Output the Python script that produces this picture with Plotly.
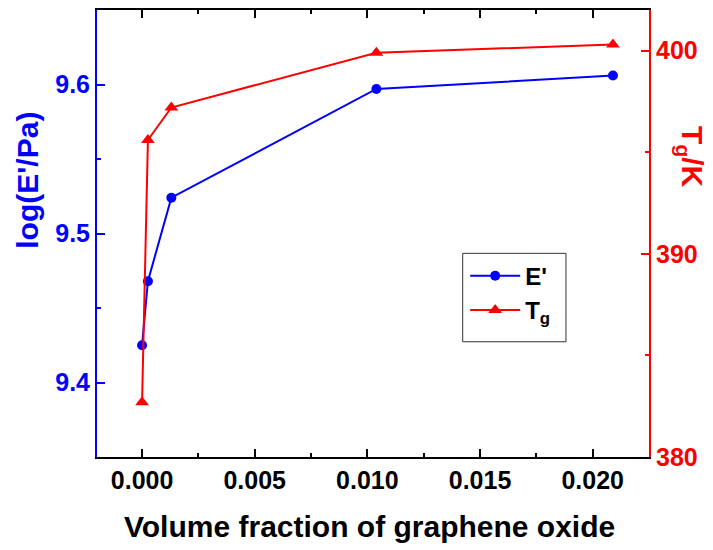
import plotly.graph_objects as go

# data
volume_fraction = [0.0, 0.00026, 0.0013, 0.0104, 0.0209]
log_E = [9.425, 9.468, 9.524, 9.597, 9.606]
Tg = [382.7, 395.6, 397.2, 399.9, 400.3]
x_ticks = [0.0, 0.005, 0.010, 0.015, 0.020]
yl_ticks = [9.4, 9.5, 9.6]
yr_ticks = [380, 390, 400]

FONT = "Liberation Sans, Arial, sans-serif"
BLUE = "#0000ff"
RED = "#ff0000"

fig = go.Figure()
fig.add_trace(go.Scatter(
    x=volume_fraction, y=log_E, name="E'", mode="lines+markers",
    line=dict(color=BLUE, width=2), marker=dict(symbol="circle", size=10, color=BLUE),
    yaxis="y"))
fig.add_trace(go.Scatter(
    x=volume_fraction, y=Tg, name="T<sub>g</sub>", mode="lines+markers",
    line=dict(color=RED, width=2), marker=dict(symbol="triangle-up", size=12, color=RED),
    yaxis="y2"))

tickfont = dict(family=FONT, size=25, weight="bold")

# the page body adds an 8px margin, so the figure is 8px smaller than the window
fig.update_layout(
    width=705, height=542,
    margin=dict(l=89, r=64, t=0, b=93),
    paper_bgcolor="white", plot_bgcolor="white",
    showlegend=True,
    legend=dict(x=0.667, y=0.455, xanchor="left", yanchor="top",
                font=dict(family=FONT, size=24, color="black", weight="bold"),
                bgcolor="rgba(0,0,0,0)", borderwidth=0, itemwidth=50,
                tracegroupgap=0),
    xaxis=dict(range=[-0.002, 0.0225], tickvals=x_ticks, tickformat=".3f",
               showgrid=False, zeroline=False,
               showline=True, linecolor="black", linewidth=2, mirror="ticks",
               ticks="inside", ticklen=8, tickwidth=2, tickcolor="black",
               minor=dict(ticks="inside", ticklen=4, tickwidth=2, dtick=0.0025, tickcolor="black"),
               tickfont=dict(tickfont, color="black")),
    yaxis=dict(range=[9.35, 9.65], tickvals=yl_ticks, tickformat=".1f",
               showgrid=False, zeroline=False,
               showline=True, linecolor=BLUE, linewidth=2,
               ticks="inside", ticklen=8, tickwidth=2, tickcolor=BLUE,
               minor=dict(ticks="inside", ticklen=4, tickwidth=2, dtick=0.05, tickcolor=BLUE),
               tickfont=dict(tickfont, color=BLUE)),
    yaxis2=dict(range=[380, 402], tickvals=yr_ticks, overlaying="y", side="right",
                showgrid=False, zeroline=False,
                showline=True, linecolor=RED, linewidth=2,
                ticks="inside", ticklen=8, tickwidth=2, tickcolor=RED,
                minor=dict(ticks="inside", ticklen=4, tickwidth=2, dtick=5, tickcolor=RED),
                tickfont=dict(tickfont, color=RED)),
)

# legend border
fig.add_shape(type="rect", xref="paper", yref="paper",
              x0=0.6625, x1=0.8496, y0=0.2578, y1=0.4556,
              line=dict(color="#333333", width=1))

# axis titles
fig.add_annotation(text="Volume fraction of graphene oxide", xref="paper", yref="paper",
                   x=0.494, y=-0.1556, xanchor="center", yanchor="middle", showarrow=False,
                   font=dict(family=FONT, size=30, color="black", weight="bold"))
fig.add_annotation(text="log(E'/Pa)", xref="paper", yref="paper",
                   x=-0.125, y=0.618, xanchor="center", yanchor="middle", showarrow=False,
                   textangle=-90,
                   font=dict(family=FONT, size=30, color=BLUE, weight="bold"))
fig.add_annotation(text="T<sub>g</sub>/K", xref="paper", yref="paper",
                   x=1.076, y=0.671, xanchor="center", yanchor="middle", showarrow=False,
                   textangle=90,
                   font=dict(family=FONT, size=30, color=RED, weight="bold"))

fig.write_html("out.html")
